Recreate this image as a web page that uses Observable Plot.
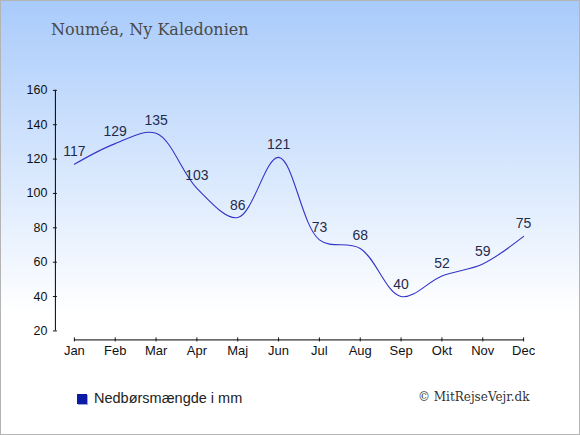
<!DOCTYPE html>
<html><head><meta charset="utf-8">
<script src="https://cdn.jsdelivr.net/npm/d3@7"></script>
<script src="https://cdn.jsdelivr.net/npm/@observablehq/plot@0.6"></script>
<style>
body{margin:0}
#wrap{position:relative;width:578px;height:433px;border:1px solid #b4b4b4;background:linear-gradient(#a9cbfb,#ffffff 72%);overflow:hidden;font-family:"Liberation Sans",Arial,sans-serif}
#chart{position:absolute;left:-1px;top:-1px}
#title{position:absolute;left:50px;top:19px;font-family:"DejaVu Serif",serif;font-size:16px;color:#4a4a4a;white-space:nowrap}
#legend{position:absolute;left:76px;top:389px;font-size:14.5px;color:#222;white-space:nowrap}
#legend span.sw{display:inline-block;width:10px;height:10px;background:#0b1ba8;box-shadow:1px 1px 0 #9aa4d8;margin-right:7px;vertical-align:-1px}
#copy{position:absolute;left:417px;top:389px;font-family:"DejaVu Serif",serif;font-size:12px;color:#333;white-space:nowrap}
</style>
</head><body>
<div id="wrap">
<div id="chart"></div>
<div id="title">Nouméa, Ny Kaledonien</div>
<div id="legend"><span class="sw"></span>Nedbørsmængde i mm</div>
<div id="copy">© MitRejseVejr.dk</div>
</div>
<script>
const months = ["Jan","Feb","Mar","Apr","Maj","Jun","Jul","Aug","Sep","Okt","Nov","Dec"];
const values = [117,129,135,103,86,121,73,68,40,52,59,75];
const yTicks = [20,40,60,80,100,120,140,160];
const data = months.map((m,i)=>({month:m, value:values[i]}));
const xLine = [{m:months[0], v:yTicks[0]}, {m:months[months.length-1], v:yTicks[0]}];
const yLine = [{x:months[0], y1:yTicks[0], y2:yTicks[yTicks.length-1]}];
const chart = Plot.plot({
  width:580, height:435,
  marginLeft:55, marginRight:56, marginTop:90, marginBottom:95,
  style:{background:"transparent", overflow:"visible", fontFamily:"Liberation Sans, Arial, sans-serif", color:"#111"},
  x:{type:"point", domain:months, range:[74,524], padding:0, round:false, label:null},
  y:{domain:[20,160], range:[331,90], label:null},
  marks:[
    Plot.ruleX(yLine, {x:"x", y1:"y1", y2:"y2", dx:-19, stroke:"#000"}),
    Plot.lineY(xLine, {x:"m", y:"v", dy:9, stroke:"#000", strokeWidth:1}),
    Plot.axisY(yTicks, {anchor:"left", tickSize:4, tickPadding:6, dx:2, fontSize:12.5, label:null}),
    Plot.axisX(months, {anchor:"bottom", tickSize:4, tickPadding:4, dy:-2, fontSize:13, label:null}),
    Plot.lineY(data, {x:"month", y:"value", curve:"catmull-rom", stroke:"#3333c8", strokeWidth:1.1}),
    Plot.text(data, {x:"month", y:"value", text:d=>String(d.value), dy:-8, lineAnchor:"bottom", fontSize:14, fill:"#1f2b4d"})
  ]
});
document.getElementById("chart").appendChild(chart);
</script>
</body></html>
